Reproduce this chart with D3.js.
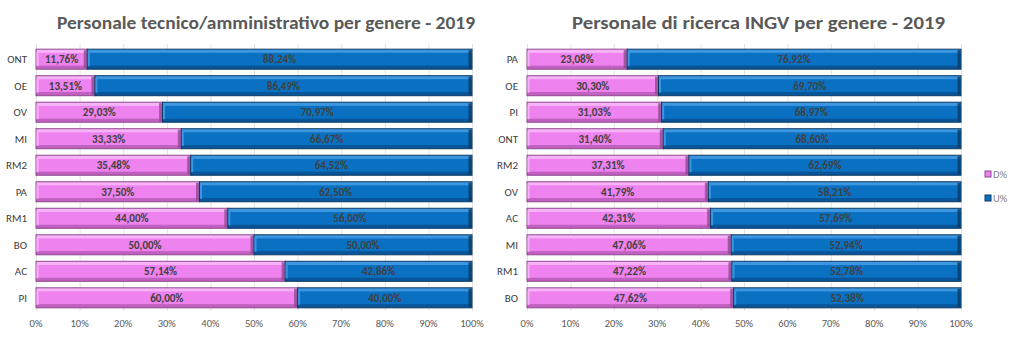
<!DOCTYPE html>
<html>
<head>
<meta charset="utf-8">
<script src="https://cdn.jsdelivr.net/npm/d3@7"></script>
<style>
  body { margin: 0; background: #fff; }
  svg { display: block; }
</style>
</head>
<body>
<script>
/* ---------------------------- */
/* DATA                         */
/* ---------------------------- */

const leftTitle = "Personale tecnico/amministrativo per genere - 2019";
const leftCats = ["ONT", "OE", "OV", "MI", "RM2", "PA", "RM1", "BO", "AC", "PI"];
const leftD = [11.76, 13.51, 29.03, 33.33, 35.48, 37.50, 44.00, 50.00, 57.14, 60.00];
const leftU = [88.24, 86.49, 70.97, 66.67, 64.52, 62.50, 56.00, 50.00, 42.86, 40.00];

const rightTitle = "Personale di ricerca INGV per genere - 2019";
const rightCats = ["PA", "OE", "PI", "ONT", "RM2", "OV", "AC", "MI", "RM1", "BO"];
const rightD = [23.08, 30.30, 31.03, 31.40, 37.31, 41.79, 42.31, 47.06, 47.22, 47.62];
const rightU = [76.92, 69.70, 68.97, 68.60, 62.69, 58.21, 57.69, 52.94, 52.78, 52.38];

const seriesNames = ["D%", "U%"];
const ticks = [0, 10, 20, 30, 40, 50, 60, 70, 80, 90, 100];

/* ---------------------------- */
/* CANVAS                       */
/* ---------------------------- */

const W = 1024, H = 337;
const font = "Calibri, Carlito, 'Open Sans', sans-serif";

let svg = d3.select("body").append("svg")
    .attr("width", W)
    .attr("height", H);

// colours for the bevel look (base, light, dark, edge)
let palette = {
    "D%": {base: "#ee82ee", light: "#f7b3f7", dark: "#c060c0", edge: "#8e4a8e"},
    "U%": {base: "#0a70c2", light: "#3c96e0", dark: "#08559a", edge: "#0c3a63"}
};

let defs = svg.append("defs");
seriesNames.forEach((s, i) => {
    let c = palette[s];
    let g = defs.append("linearGradient")
        .attr("id", "grad" + i)
        .attr("x1", 0).attr("y1", 0).attr("x2", 0).attr("y2", 1);
    [[0, c.light], [0.16, c.light], [0.2, c.base], [0.8, c.base], [0.84, c.dark], [1, c.dark]]
        .forEach(st => g.append("stop").attr("offset", st[0]).attr("stop-color", st[1]));
});

/* ---------------------------- */
/* FUNCTIONS                    */
/* ---------------------------- */

function drawChart(opt) {
    let x = d3.scaleLinear().domain([0, 100]).range([opt.x0, opt.x1]);
    let y = d3.scaleBand().domain(opt.cats).range([46, 311]).paddingInner(0.245).paddingOuter(0.12);

    let g = svg.append("g");

    // vertical gridlines
    g.selectAll("line.grid")
        .data(ticks)
        .enter()
        .append("line")
            .attr("x1", d => x(d) + 0.5)
            .attr("x2", d => x(d) + 0.5)
            .attr("y1", 44)
            .attr("y2", 311)
            .attr("stroke", "#e3e3e3")
            .attr("stroke-width", 1);

    // x axis labels
    g.selectAll("text.tick")
        .data(ticks)
        .enter()
        .append("text")
            .attr("x", d => x(d))
            .attr("y", 327)
            .attr("text-anchor", "middle")
            .attr("font-family", font)
            .attr("font-size", "10.5px")
            .attr("fill", "#595959")
            .text(d => d + "%");

    // category labels
    g.selectAll("text.cat")
        .data(opt.cats)
        .enter()
        .append("text")
            .attr("x", opt.x0 - 9)
            .attr("y", d => y(d) + y.bandwidth() / 2 + 4)
            .attr("text-anchor", "end")
            .attr("font-family", font)
            .attr("font-size", "11px")
            .attr("fill", "#404040")
            .text(d => d);

    // stacked segments
    let rows = [];
    opt.cats.forEach((c, i) => {
        rows.push({cat: c, s: 0, start: 0, v: opt.d[i]});
        rows.push({cat: c, s: 1, start: opt.d[i], v: opt.u[i]});
    });

    let seg = g.selectAll("g.seg")
        .data(rows)
        .enter()
        .append("g");

    seg.append("rect")
        .attr("x", d => x(d.start))
        .attr("y", d => y(d.cat))
        .attr("width", d => x(d.start + d.v) - x(d.start))
        .attr("height", y.bandwidth())
        .attr("fill", d => "url(#grad" + d.s + ")")
        .attr("stroke", d => palette[seriesNames[d.s]].edge)
        .attr("stroke-width", 1);

    // left light edge, right dark edge
    seg.append("rect")
        .attr("x", d => x(d.start) + 0.5)
        .attr("y", d => y(d.cat) + 3)
        .attr("width", 2)
        .attr("height", y.bandwidth() - 6)
        .attr("fill", d => palette[seriesNames[d.s]].light);
    seg.append("rect")
        .attr("x", d => x(d.start + d.v) - 3.5)
        .attr("y", d => y(d.cat) + 1)
        .attr("width", 3)
        .attr("height", y.bandwidth() - 2)
        .attr("fill", d => palette[seriesNames[d.s]].edge)
        .attr("opacity", 0.8);

    // value labels
    seg.append("text")
        .attr("x", d => x(d.start + d.v / 2))
        .attr("y", d => y(d.cat) + y.bandwidth() / 2 + 4)
        .attr("text-anchor", "middle")
        .attr("font-family", font)
        .attr("font-size", "11px")
        .attr("font-weight", "bold")
        .attr("fill", "#404040")
        .text(d => d.v.toFixed(2).replace(".", ",") + "%");

    // title
    svg.append("text")
        .attr("x", opt.tx)
        .attr("y", 29)
        .attr("font-family", font)
        .attr("font-size", "19px")
        .attr("font-weight", "bold")
        .attr("fill", "#595959")
        .attr("textLength", opt.tw)
        .attr("lengthAdjust", "spacingAndGlyphs")
        .text(opt.title);
}

drawChart({cats: leftCats, d: leftD, u: leftU, x0: 36, x1: 472, title: leftTitle, tx: 57, tw: 418});
drawChart({cats: rightCats, d: rightD, u: rightU, x0: 527, x1: 961, title: rightTitle, tx: 572, tw: 373});

// legend
let legend = svg.append("g")
    .selectAll("g")
    .data(seriesNames)
    .enter()
    .append("g")
        .attr("transform", (d, i) => "translate(985," + (171 + i * 24) + ")");
legend.append("rect")
    .attr("width", 6)
    .attr("height", 6)
    .attr("fill", d => palette[d].base)
    .attr("stroke", d => palette[d].edge);
legend.append("text")
    .attr("x", 8)
    .attr("y", 7)
    .attr("font-family", font)
    .attr("font-size", "10.5px")
    .attr("fill", "#7f7f7f")
    .text(d => d);
</script>
</body>
</html>
